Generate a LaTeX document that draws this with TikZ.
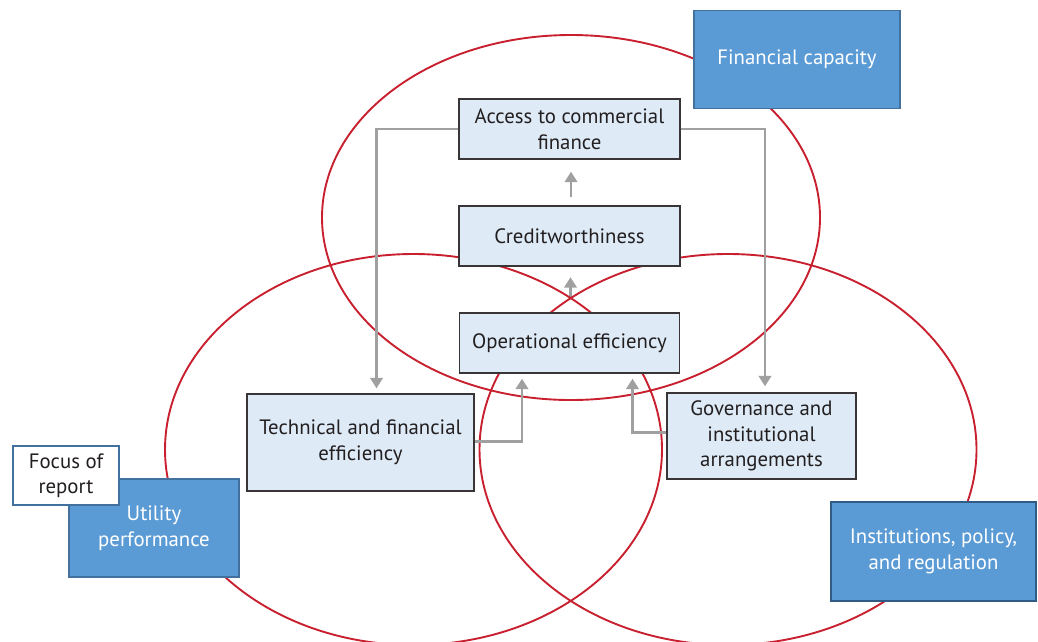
\documentclass[tikz,border=0pt]{standalone}
\usepackage{fontspec}
\setmainfont{PT Sans}
\usetikzlibrary{arrows.meta}
\definecolor{ered}{HTML}{C8202F}
\definecolor{lightfill}{HTML}{DEEBF7}
\definecolor{bluefill}{HTML}{5B9BD5}
\definecolor{blueedge}{HTML}{41719C}
\definecolor{darkedge}{HTML}{2F5B85}
\definecolor{txt}{HTML}{231F20}
\definecolor{garr}{HTML}{A0A0A0}
\tikzset{
  ring/.style={draw=ered, line width=1.9pt},
  boxfont/.style={font=\fontsize{20.8}{25.5}\selectfont},
  lbox/.style={draw=txt!90, line width=1.4pt, fill=lightfill, text=txt, align=center, inner sep=0pt, boxfont},
  bbox/.style={draw=blueedge, line width=1.1pt, fill=bluefill, text=white, align=center, inner sep=0pt, boxfont},
  fbox/.style={draw=blueedge, line width=1.1pt, fill=white, text=txt, align=center, inner sep=0pt, boxfont},
  garrow/.style={draw=garr, line width=2.6pt, -{Triangle[width=12.5pt,length=10.5pt]}},
}
\begin{document}
\begin{tikzpicture}[x=1pt,y=-1pt]
\useasboundingbox (0,0) rectangle (1038,641);
\clip (0,0) rectangle (1038,641);

% placement of the two middle boxes, so that their arrow can sit under the rings
\path (569.5,343) node[minimum width=220pt, minimum height=60pt] (opghost) {};
\path (569.5,236) node[minimum width=221pt, minimum height=60pt] (credghost) {};
\draw[garrow, shorten <=14pt, shorten >=11pt] ([xshift=1pt]opghost.north) -- ([xshift=1pt]credghost.south);

% rings
\draw[ring] (571,217.5) ellipse [x radius=249pt, y radius=182.5pt];
\draw[ring] (413.5,449.5) ellipse [x radius=248.5pt, y radius=195.5pt];
\draw[ring] (728,449.5) ellipse [x radius=248.5pt, y radius=195.5pt];

% boxes
\node[bbox, minimum width=206pt, minimum height=97.5pt] (fin) at (797,59.3) {Financial capacity};
\node[lbox, minimum width=221pt, minimum height=60pt] (acc) at (569.5,129) {Access to commercial\\finance};
\node[lbox, minimum width=221pt, minimum height=60pt] (cred) at (569.5,236) {Creditworthiness};
\node[lbox, minimum width=220pt, minimum height=60pt] (op) at (569.5,343) {Operational efficiency};
\node[lbox, minimum width=227pt, minimum height=97pt] (tech) at (360.5,442.5) {Technical and financial\\efficiency};
\node[lbox, minimum width=189pt, minimum height=86pt] (gov) at (761.5,436) {Governance and\\institutional\\arrangements};
\node[bbox, minimum width=170pt, minimum height=98pt] (util) at (154,528) {Utility\\performance};
\node[fbox, minimum width=106pt, minimum height=59pt] (focus) at (66,475.5) {Focus of\\report};
\node[bbox, draw=darkedge, line width=2.2pt, minimum width=205pt, minimum height=99pt] (inst) at (933.5,551.5) {Institutions, policy,\\and regulation};

% connectors
\draw[garrow, shorten <=8pt, shorten >=12pt] ([xshift=1.5pt]cred.north) -- ([xshift=1.5pt]acc.south);
\draw[garrow, shorten >=5pt] (acc.west) -| ([xshift=16pt]tech.north);
\draw[garrow, shorten >=6pt] (acc.east) -| ([xshift=3.5pt]gov.north);
\draw[garrow, shorten >=5pt] ([yshift=1pt]tech.east) -| ([xshift=-47.5pt]op.south);
\draw[garrow, shorten >=5pt] ([yshift=3.3pt]gov.west) -| ([xshift=63pt]op.south);
\end{tikzpicture}
\end{document}
